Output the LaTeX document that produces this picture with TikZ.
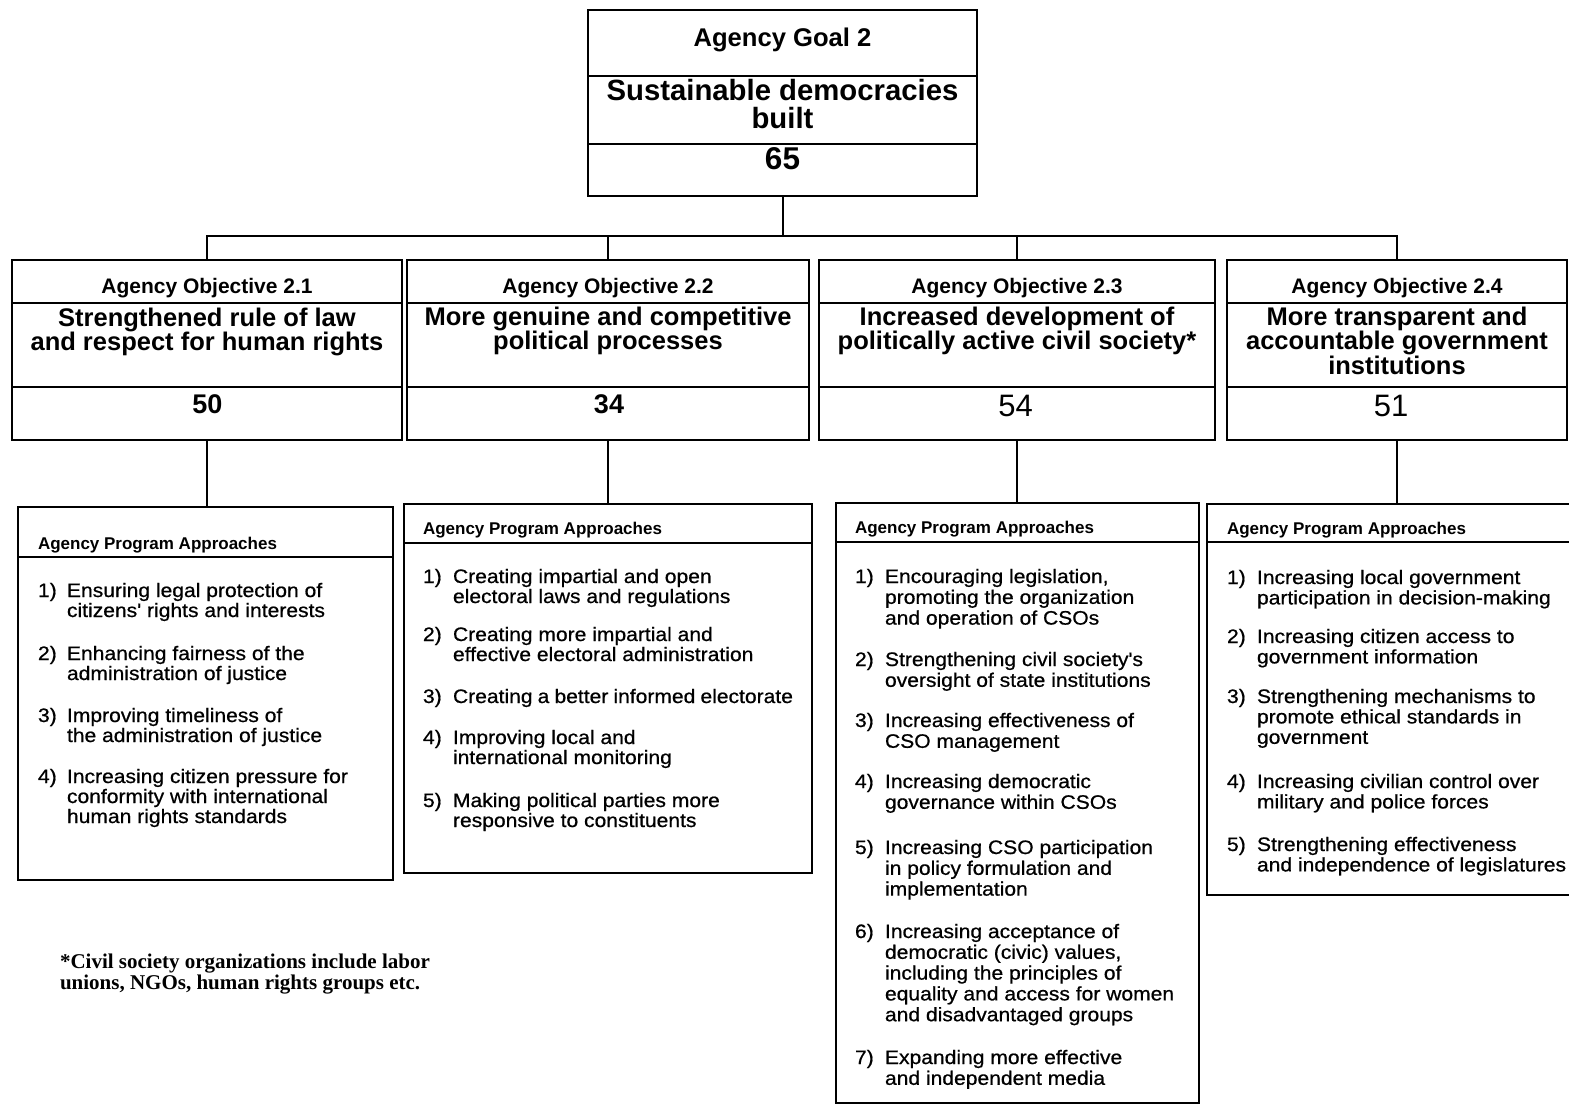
\documentclass[tikz,border=0pt]{standalone}
\usepackage{fontspec}
\setmainfont{Liberation Sans}
\newfontfamily\bodyf[FakeStretch=1.08,FakeBold=0.7]{Liberation Sans}
\newfontfamily\notef{Liberation Serif}
\newcommand\lsk{20}
\newcommand\ctxt[1]{\parbox[t]{440pt}{\centering #1}}
\newcommand\apitem[6]{%
  \node[itm] (#1n) at (#2,#4) {#5};
  \node[itm] (#1) at (#3,#4) {\parbox[t]{340pt}{#6}};}
\begin{document}
\begin{tikzpicture}[x=1pt,y=-1pt,
  box/.style={draw, line width=2.2pt, inner sep=0pt, outer sep=0pt},
  div/.style={line width=1.3pt},
  conn/.style={line width=2pt},
  lbl/.style={inner sep=0pt, outer sep=0pt, anchor=base},
  goalhead/.style={lbl, font=\bfseries\fontsize{25.6}{28}\selectfont},
  goaltitle/.style={lbl, font=\bfseries\fontsize{29.3}{28}\selectfont},
  goalnum/.style={lbl, font=\bfseries\fontsize{31.5}{32}\selectfont},
  objhead/.style={lbl, font=\bfseries\fontsize{21}{24}\selectfont},
  objtitle/.style={lbl, font=\bfseries\fontsize{25.5}{24.5}\selectfont},
  objnumb/.style={lbl, font=\bfseries\fontsize{27}{28}\selectfont},
  objnumr/.style={lbl, font=\fontsize{31}{32}\selectfont},
  aphead/.style={inner sep=0pt, outer sep=0pt, anchor=base west, font=\bfseries\fontsize{17}{20}\selectfont},
  itm/.style={inner sep=0pt, outer sep=0pt, anchor=base west, font={\bodyf\fontsize{19.5}{\lsk}\selectfont}},
  notestyle/.style={inner sep=0pt, outer sep=0pt, anchor=base west, font=\notef\bfseries\fontsize{21}{21}\selectfont}
]
\useasboundingbox (0,0) rectangle (1569,1106);
\fill[white] (0,0) rectangle (1569,1106);

% ---------- Goal ----------
\node[box, minimum width=389pt, minimum height=186pt] (goal) at (782.5,103) {};
\draw[div] (goal.west |- 0,76) -- (goal.east |- 0,76);
\draw[div] (goal.west |- 0,144) -- (goal.east |- 0,144);
\node[goalhead] (goalh) at (782.5,46) {Agency Goal 2};
\node[goaltitle] (goalt) at (782.5,100) {\ctxt{Sustainable democracies\\built}};
\node[goalnum] (goaln) at (782.5,169) {65};

% ---------- Objectives ----------
\node[box, minimum width=390pt, minimum height=180pt] (o1) at (207,350) {};
\node[box, minimum width=402pt, minimum height=180pt] (o2) at (608,350) {};
\node[box, minimum width=396pt, minimum height=180pt] (o3) at (1017,350) {};
\node[box, minimum width=340pt, minimum height=180pt] (o4) at (1397,350) {};
\foreach \o in {o1,o2,o3,o4}{
  \draw[div] (\o.west |- 0,303) -- (\o.east |- 0,303);
  \draw[div] (\o.west |- 0,387) -- (\o.east |- 0,387);
}
\node[objhead] (o1h) at (207,293) {Agency Objective 2.1};
\node[objhead] (o2h) at (608,293) {Agency Objective 2.2};
\node[objhead] (o3h) at (1017,293) {Agency Objective 2.3};
\node[objhead] (o4h) at (1397,293) {Agency Objective 2.4};
\node[objtitle] (o1t) at (207,326) {\ctxt{Strengthened rule of law\\and respect for human rights}};
\node[objtitle] (o2t) at (608,325) {\ctxt{More genuine and competitive\\political processes}};
\node[objtitle] (o3t) at (1017,325) {\ctxt{Increased development of\\politically active civil society*}};
\node[objtitle] (o4t) at (1397,325) {\ctxt{More transparent and\\accountable government\\institutions}};
\node[objnumb] (o1n) at (207.5,413) {50};
\node[objnumb] (o2n) at (609,413) {34};
\node[objnumr] (o3n) at (1015.5,416) {54};
\node[objnumr] (o4n) at (1391,416) {51};

% ---------- Connectors top ----------
\coordinate (bus) at (782.5,236);
\draw[conn] (goal.south) -- (bus);
\draw[conn] (o1.north) |- (bus);
\draw[conn] (o4.north) |- (bus);
\draw[conn] (o2.north) -- (o2.north |- bus);
\draw[conn] (o3.north) -- (o3.north |- bus);

% ---------- Approach boxes ----------
\node[box, minimum width=375pt, minimum height=373pt] (a1) at (205.5,693.5) {};
\node[box, minimum width=408pt, minimum height=369pt] (a2) at (608,688.5) {};
\node[box, minimum width=363pt, minimum height=600pt] (a3) at (1017.5,803) {};
\node[box, minimum width=368pt, minimum height=391pt] (a4) at (1391,699.5) {};
\draw[div] (a1.west |- 0,557) -- (a1.east |- 0,557);
\draw[div] (a2.west |- 0,543) -- (a2.east |- 0,543);
\draw[div] (a3.west |- 0,542) -- (a3.east |- 0,542);
\draw[div] (a4.west |- 0,542) -- (a4.east |- 0,542);

\draw[conn] (o1.south) -- (o1.south |- a1.north);
\draw[conn] (o2.south) -- (o2.south |- a2.north);
\draw[conn] (o3.south) -- (o3.south |- a3.north);
\draw[conn] (o4.south) -- (o4.south |- a4.north);

\node[aphead] (a1h) at (38,549) {Agency Program Approaches};
\node[aphead] (a2h) at (423,534) {Agency Program Approaches};
\node[aphead] (a3h) at (855,533) {Agency Program Approaches};
\node[aphead] (a4h) at (1227,534) {Agency Program Approaches};

% A1 items
\renewcommand\lsk{20}
\apitem{a1i1}{38}{67}{597}{1)}{Ensuring legal protection of\\citizens' rights and interests}
\apitem{a1i2}{38}{67}{660}{2)}{Enhancing fairness of the\\administration of justice}
\apitem{a1i3}{38}{67}{722}{3)}{Improving timeliness of\\the administration of justice}
\apitem{a1i4}{38}{67}{783}{4)}{Increasing citizen pressure for\\conformity with international\\human rights standards}

% A2 items
\apitem{a2i1}{423}{453}{583}{1)}{Creating impartial and open\\electoral laws and regulations}
\apitem{a2i2}{423}{453}{641}{2)}{Creating more impartial and\\effective electoral administration}
\apitem{a2i3}{423}{453}{703}{3)}{Creating a better informed electorate}
\apitem{a2i4}{423}{453}{744}{4)}{Improving local and\\international monitoring}
\apitem{a2i5}{423}{453}{807}{5)}{Making political parties more\\responsive to constituents}

% A3 items
\renewcommand\lsk{20.8}
\apitem{a3i1}{855}{885}{583}{1)}{Encouraging legislation,\\promoting the organization\\and operation of CSOs}
\apitem{a3i2}{855}{885}{666}{2)}{Strengthening civil society's\\oversight of state institutions}
\apitem{a3i3}{855}{885}{727}{3)}{Increasing effectiveness of\\CSO management}
\apitem{a3i4}{855}{885}{788}{4)}{Increasing democratic\\governance within CSOs}
\apitem{a3i5}{855}{885}{854}{5)}{Increasing CSO participation\\in policy formulation and\\implementation}
\apitem{a3i6}{855}{885}{938}{6)}{Increasing acceptance of\\democratic (civic) values,\\including the principles of\\equality and access for women\\and disadvantaged groups}
\apitem{a3i7}{855}{885}{1064}{7)}{Expanding more effective\\and independent media}

% A4 items
\renewcommand\lsk{20.4}
\apitem{a4i1}{1227}{1257}{584}{1)}{Increasing local government\\participation in decision-making}
\apitem{a4i2}{1227}{1257}{643}{2)}{Increasing citizen access to\\government information}
\apitem{a4i3}{1227}{1257}{703}{3)}{Strengthening mechanisms to\\promote ethical standards in\\government}
\apitem{a4i4}{1227}{1257}{788}{4)}{Increasing civilian control over\\military and police forces}
\apitem{a4i5}{1227}{1257}{851}{5)}{Strengthening effectiveness\\and independence of legislatures}

% Footnote
\node[notestyle] (note) at (60,968) {\parbox[t]{440pt}{*Civil society organizations include labor\\unions, NGOs, human rights groups etc.}};
\end{tikzpicture}
\end{document}
